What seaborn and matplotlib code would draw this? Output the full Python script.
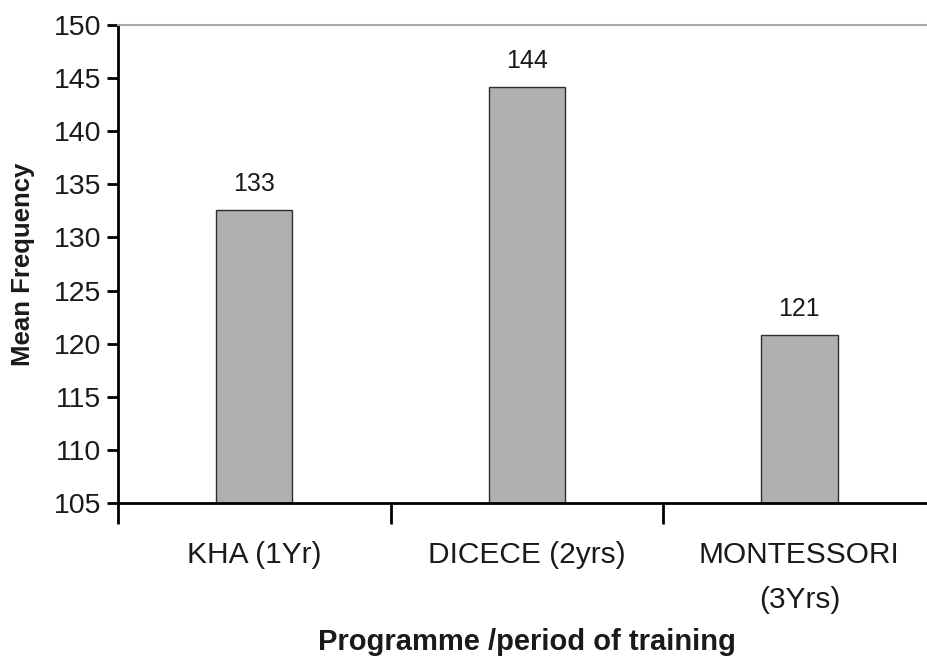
import matplotlib
matplotlib.use("Agg")
import matplotlib.pyplot as plt
import numpy as np
import pandas as pd
import seaborn as sns

# values
PROGRAMMES = ["KHA (1Yr)", "DICECE (2yrs)", "MONTESSORI\n(3Yrs)"]
MEAN_FREQ = [132.6, 144.2, 120.8]
BAR_LABELS = ["133", "144", "121"]
Y_TICKS = [105, 110, 115, 120, 125, 130, 135, 140, 145, 150]

sns.set_theme(style="white")
plt.rcParams["font.family"] = ["Liberation Sans", "DejaVu Sans"]

df = pd.DataFrame({"programme": PROGRAMMES, "mean": MEAN_FREQ})

fig = plt.figure(figsize=(9.27, 6.56), dpi=100)
ax = fig.add_axes([0.1273, 0.2332, 0.882, 0.7287])

sns.barplot(data=df, x="programme", y="mean", color="#b0b0b0", width=0.28,
            edgecolor="#2e2e2e", linewidth=1.0, saturation=1, ax=ax)

ax.set_ylim(105, 150)
ax.set_xlim(-0.5, 2.5)
ax.set_yticks(Y_TICKS)
ax.tick_params(axis="y", which="major", direction="out", length=8, width=2,
               color="black", labelsize=20.5, pad=4, left=True,
               labelcolor="#1a1a1a")

# category labels at bar centres, tick marks at the category boundaries
ax.set_xticks(range(len(PROGRAMMES)))
ax.set_xticklabels(PROGRAMMES)
ax.set_xticks([-0.5, 0.5, 1.5, 2.5], minor=True)
ax.tick_params(axis="x", which="major", length=0, labelsize=21.5, pad=27,
               labelcolor="#1a1a1a")
ax.tick_params(axis="x", which="minor", direction="out", length=15, width=2,
               color="black", bottom=True)
for t in ax.get_xticklabels():
    t.set_linespacing(1.8)

ax.bar_label(ax.containers[0], labels=BAR_LABELS, padding=10, fontsize=18,
             color="#1a1a1a")

ax.set_ylabel("Mean Frequency", fontsize=18.5, fontweight="bold", color="#1a1a1a")
ax.yaxis.set_label_coords(-0.1015, 0.5)
ax.set_xlabel("Programme /period of training", fontsize=21, fontweight="bold",
              color="#1a1a1a")
ax.xaxis.set_label_coords(0.5, -0.262)

for side in ["left", "bottom"]:
    ax.spines[side].set_color("black")
    ax.spines[side].set_linewidth(2)
ax.spines["top"].set_color("#a8a8a8")
ax.spines["top"].set_linewidth(1.5)
ax.spines["right"].set_visible(False)

fig.savefig("out.png", dpi=100)
